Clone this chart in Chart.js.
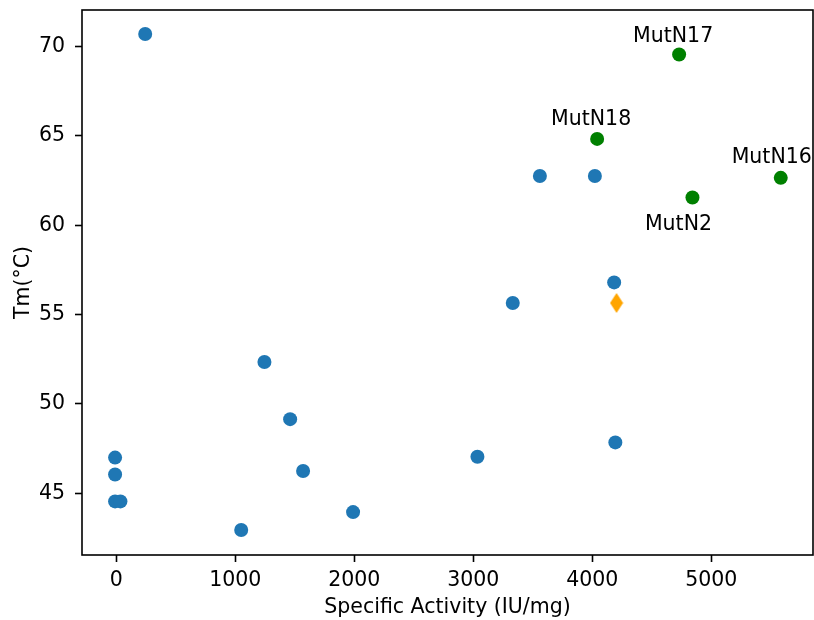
<!DOCTYPE html>
<html>
<head>
<meta charset="utf-8">
<script src="https://cdn.jsdelivr.net/npm/chart.js@4.4.1/dist/chart.umd.min.js"></script>
<style>
  html, body { margin: 0; padding: 0; background: #fff; overflow: hidden; }
  #wrap { width: 814px; height: 620px; }
</style>
</head>
<body>
<div id="wrap"><canvas id="myChart"></canvas></div>
<script>
// other variants (blue dots)
var otherX = [243, -10, -10, -10, 35, 1050, 1245, 1461, 1570, 1990, 3035, 3332, 3560, 4022, 4184, 4194];
var otherY = [70.7, 47.0, 46.05, 44.55, 44.55, 42.95, 52.35, 49.15, 46.25, 43.95, 47.05, 55.65, 62.75, 62.75, 56.8, 47.85];

// labelled mutants (green dots)
var mutNames = ["MutN17", "MutN18", "MutN16", "MutN2"];
var mutX = [4730, 4041, 5584, 4842];
var mutY = [69.55, 64.83, 62.65, 61.55];

// orange diamond
var wildX = [4204];
var wildY = [55.65];

var xTicks = [0, 1000, 2000, 3000, 4000, 5000];
var yTicks = [45, 50, 55, 60, 65, 70];

function toPoints(xs, ys) {
  return xs.map((x, i) => ({ x: x, y: ys[i] }));
}

// thin diamond marker like matplotlib 'd'
var diamond = document.createElement("canvas");
diamond.width = 14;
diamond.height = 20;
var dctx = diamond.getContext("2d");
dctx.fillStyle = "orange";
dctx.beginPath();
dctx.moveTo(7, 0);
dctx.lineTo(13.5, 10);
dctx.lineTo(7, 20);
dctx.lineTo(0.5, 10);
dctx.closePath();
dctx.fill();

// label offsets (px) relative to each green point
var labelOffsets = [[-6, -13], [-6, -14], [-9, -15], [-14, 32]];

const framePlugin = {
  id: "frame",
  afterDatasetsDraw(chart) {
    const c = chart.ctx;
    const a = chart.chartArea;
    c.save();
    c.strokeStyle = "#000";
    c.lineWidth = 1.6;
    c.strokeRect(a.left, a.top, a.right - a.left, a.bottom - a.top);

    // annotations
    c.fillStyle = "#000";
    c.font = "20.5px 'DejaVu Sans'";
    c.textAlign = "center";
    c.textBaseline = "alphabetic";
    const xs = chart.scales.x, ys = chart.scales.y;
    mutNames.forEach((name, i) => {
      const px = xs.getPixelForValue(mutX[i]);
      const py = ys.getPixelForValue(mutY[i]);
      c.fillText(name, px + labelOffsets[i][0], py + labelOffsets[i][1]);
    });
    c.restore();
  }
};

function noPad(s) {
  s.paddingTop = 0; s.paddingBottom = 0; s.paddingLeft = 0; s.paddingRight = 0;
}

Chart.defaults.font.family = "'DejaVu Sans'";
Chart.defaults.font.size = 20.5;
Chart.defaults.color = "#000";

const ctx = document.getElementById("myChart");

var myChart = new Chart(ctx, {
  type: "scatter",
  data: {
    datasets: [
      {
        label: "others",
        data: toPoints(otherX, otherY),
        backgroundColor: "#1f77b4",
        borderWidth: 0,
        pointRadius: 7,
      },
      {
        label: "mutants",
        data: toPoints(mutX, mutY),
        backgroundColor: "green",
        borderWidth: 0,
        pointRadius: 7,
      },
      {
        label: "wild type",
        data: toPoints(wildX, wildY),
        pointStyle: diamond,
        pointRadius: 10,
      },
    ],
  },
  options: {
    responsive: true,
    maintainAspectRatio: false,
    animation: false,
    events: [],
    layout: { autoPadding: false, padding: { top: 10, right: 1, left: 0, bottom: 0 } },
    plugins: {
      legend: { display: false },
      tooltip: { enabled: false },
    },
    scales: {
      x: {
        type: "linear",
        min: -288,
        max: 5855,
        afterBuildTicks: (s) => { s.ticks = xTicks.map(v => ({ value: v })); },
        afterFit: (s) => { s.height = 65; noPad(s); },
        border: { display: false },
        grid: { drawOnChartArea: false, drawTicks: true, tickLength: 7, tickWidth: 1.6, tickColor: "#000" },
        ticks: { padding: 6, maxRotation: 0, autoSkip: false, callback: (v) => String(v) },
        title: { display: true, text: "Specific Activity (IU/mg)", padding: { top: 0, bottom: 0 } },
      },
      y: {
        type: "linear",
        min: 41.55,
        max: 72.04,
        afterBuildTicks: (s) => { s.ticks = yTicks.map(v => ({ value: v })); },
        afterFit: (s) => { s.width = 82; noPad(s); },
        border: { display: false },
        grid: { drawOnChartArea: false, drawTicks: true, tickLength: 7, tickWidth: 1.6, tickColor: "#000" },
        ticks: { padding: 10, autoSkip: false, callback: (v) => String(v) },
        title: { display: true, text: "Tm(°C)", padding: { top: 11, bottom: 0 } },
      },
    },
  },
  plugins: [framePlugin],
});
</script>
</body>
</html>
